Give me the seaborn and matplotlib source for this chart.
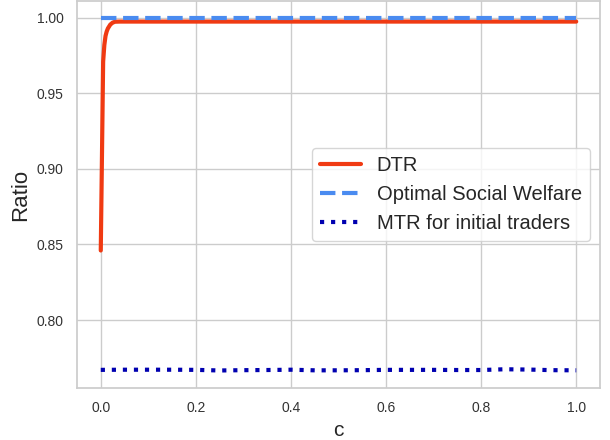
import matplotlib
matplotlib.use("Agg")
import matplotlib.pyplot as plt
import pandas as pd
import seaborn as sns

# DTR ratio vs c
dtr_c = [0.0, 0.005, 0.0075, 0.01, 0.0125, 0.015, 0.02, 0.025, 0.03, 0.04, 0.05,
         0.1, 0.2, 0.3, 0.4, 0.5, 0.6, 0.7, 0.8, 0.9, 1.0]
dtr_ratio = [0.846, 0.971, 0.982, 0.988, 0.991, 0.993, 0.9955, 0.9968, 0.9974, 0.9975, 0.9975,
             0.9975, 0.9975, 0.9975, 0.9975, 0.9975, 0.9975, 0.9975, 0.9975, 0.9975, 0.9975]

# optimal social welfare (normalised)
opt_c = [0.0, 1.0]
opt_ratio = [1.0, 1.0]

# MTR for initial traders
mtr_c = [0.0, 0.05, 0.1, 0.15, 0.2, 0.25, 0.3, 0.35, 0.4, 0.45, 0.5,
         0.55, 0.6, 0.65, 0.7, 0.75, 0.8, 0.85, 0.9, 0.95, 1.0]
mtr_ratio = [0.7670, 0.7671, 0.7671, 0.7671, 0.7670, 0.7666, 0.7668, 0.7669, 0.7671, 0.7667, 0.7667,
             0.7668, 0.7670, 0.7670, 0.7670, 0.7669, 0.7669, 0.7674, 0.7672, 0.7668, 0.7667]

sns.set_theme(style="whitegrid")
plt.rcParams['font.family'] = ['Liberation Sans', 'DejaVu Sans']

fig, ax = plt.subplots(figsize=(6.1, 4.4), dpi=100)
fig.subplots_adjust(left=77 / 610, right=600 / 610, bottom=52 / 440, top=0.998)

sns.lineplot(x=dtr_c, y=dtr_ratio, ax=ax, color="#f03a12", linewidth=3, label="DTR")
sns.lineplot(x=opt_c, y=opt_ratio, ax=ax, color="#4a8bf0", linewidth=3,
             linestyle="--", label="Optimal Social Welfare")
sns.lineplot(x=mtr_c, y=mtr_ratio, ax=ax, color="#0000b0", linewidth=3,
             linestyle=":", label="MTR for initial traders")

ax.set_xlim(-0.05, 1.05)
ax.set_ylim(0.755, 1.0112)
ax.set_xticks([0.0, 0.2, 0.4, 0.6, 0.8, 1.0])
ax.set_yticks([0.80, 0.85, 0.90, 0.95, 1.00])
ax.tick_params(labelsize=10, labelcolor="#333333")
ax.set_xlabel("c", fontsize=15)
ax.set_ylabel("Ratio", fontsize=16)
ax.legend(loc="center right", fontsize=14.5)

fig.savefig("out.png", dpi=100)
